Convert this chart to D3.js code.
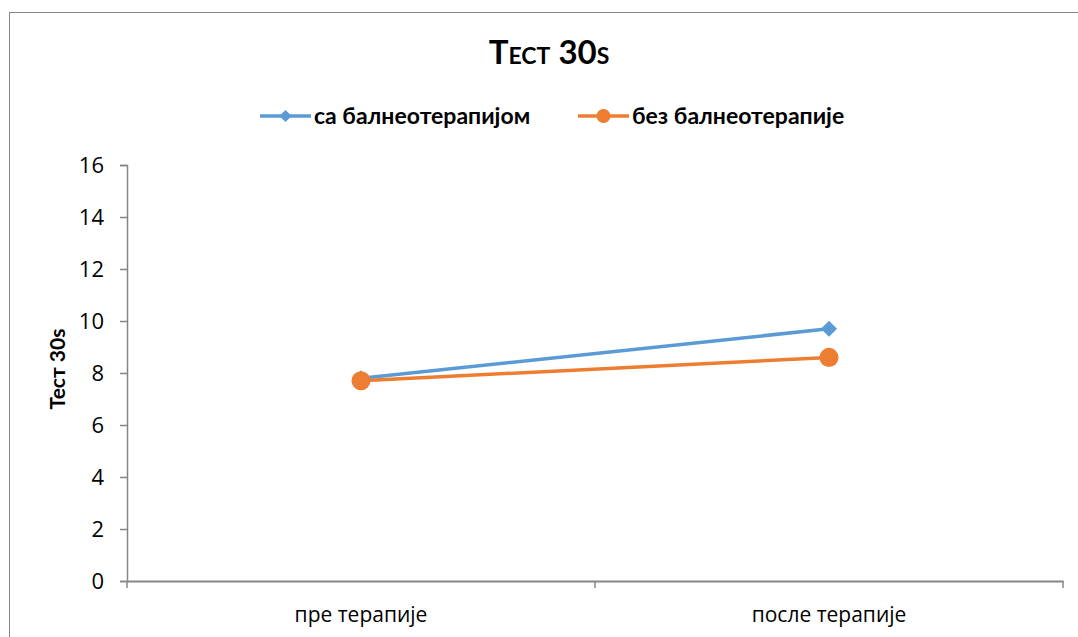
<!DOCTYPE html>
<html>
<head>
<meta charset="utf-8">
<script src="https://cdn.jsdelivr.net/npm/d3@7"></script>
<style>
  body { margin: 0; background: #fff; }
  svg text { font-family: Lato, "Open Sans", sans-serif; fill: #000; }
</style>
</head>
<body>
<div id="chart"></div>
<script>
var categories = ["пре терапије", "после терапије"];
var seriesNames = ["са балнеотерапијом", "без балнеотерапије"];
var withBalneo = [7.8, 9.7];
var withoutBalneo = [7.7, 8.6];
var yTicks = [0, 2, 4, 6, 8, 10, 12, 14, 16];

var W = 1078, H = 637;
var margin = {top: 165, right: 15, bottom: 56, left: 127};
var width = W - margin.left - margin.right,
    height = H - margin.top - margin.bottom;

var svg = d3.select("#chart").append("svg")
    .attr("width", W)
    .attr("height", H);

// outer chart border
svg.append("rect")
    .attr("x", 9.5).attr("y", 12.5)
    .attr("width", W + 20).attr("height", H + 20)
    .style("fill", "none")
    .style("stroke", "#868686")
    .style("stroke-width", 1);

var g = svg.append("g")
    .attr("transform", "translate(" + margin.left + "," + margin.top + ")");

var x = d3.scaleBand().domain(categories).range([0, 936]);
var y = d3.scaleLinear().domain([0, 16]).range([height, 0]);

var yAxis = d3.axisLeft(y).tickValues(yTicks).tickSize(7).tickPadding(16);
var gy = g.append("g").attr("class", "y axis").call(yAxis);
gy.select(".domain").style("stroke", "#868686").style("stroke-width", 1.5);
gy.selectAll(".tick line").style("stroke", "#868686").style("stroke-width", 1.5);
gy.selectAll(".tick text")
    .style("font-size", "22px")
    .style("font-family", "'Open Sans', sans-serif")
    .attr("dy", "0.35em");

var xAxis = d3.axisBottom(x).tickSize(0).tickPadding(0);
var gx = g.append("g").attr("class", "x axis")
    .attr("transform", "translate(0," + height + ")")
    .call(xAxis);
gx.select(".domain").style("stroke", "#868686").style("stroke-width", 2);
gx.selectAll(".tick text")
    .attr("y", 41)
    .attr("dy", 0)
    .style("font-size", "21px")
    .style("font-family", "'Open Sans', sans-serif");

// category separators
var bounds = [0].concat(categories.map(function(c) { return x(c) + x.bandwidth(); }));
g.selectAll(".xsep")
    .data(bounds)
    .enter().append("line")
    .attr("class", "xsep")
    .attr("x1", function(d) { return d; })
    .attr("x2", function(d) { return d; })
    .attr("y1", height)
    .attr("y2", height + 7)
    .style("stroke", "#868686")
    .style("stroke-width", 1.5);

var line = d3.line()
    .x(function(d, i) { return x(categories[i]) + x.bandwidth() / 2; })
    .y(function(d) { return y(d); });

var series = [
    {name: seriesNames[0], values: withBalneo, color: "#5B9BD5", symbol: d3.symbolSquare, rot: 45, size: 130, lsize: 75},
    {name: seriesNames[1], values: withoutBalneo, color: "#ED7D31", symbol: d3.symbolCircle, rot: 0, size: 285, lsize: 150}
];

series.forEach(function(s) {
    g.append("path")
        .datum(s.values)
        .attr("d", line)
        .style("fill", "none")
        .style("stroke", s.color)
        .style("stroke-width", 3.5);
    g.selectAll(null)
        .data(s.values)
        .enter().append("path")
        .attr("d", d3.symbol().type(s.symbol).size(s.size))
        .attr("transform", function(d, i) {
            return "translate(" + (x(categories[i]) + x.bandwidth() / 2) + "," + y(d) + ") rotate(" + s.rot + ")";
        })
        .style("fill", s.color);
});

// title
svg.append("text")
    .attr("x", 549).attr("y", 64)
    .style("text-anchor", "middle")
    .style("font-size", "33px")
    .style("font-weight", "bold")
    .style("font-variant", "small-caps")
    .text("Тест 30s");

// y axis title
svg.append("text")
    .attr("transform", "translate(65,369) rotate(-90)")
    .style("text-anchor", "middle")
    .style("font-size", "21px")
    .style("font-weight", "bold")
    .text("Тест  30s");

// legend
var legendX = [260, 578];
var legend = svg.selectAll(".legend")
    .data(series)
    .enter().append("g")
    .attr("class", "legend")
    .attr("transform", function(d, i) { return "translate(" + legendX[i] + ",116)"; });
legend.append("line")
    .attr("x1", 0).attr("x2", 51)
    .style("stroke", function(d) { return d.color; })
    .style("stroke-width", 3.5);
legend.append("path")
    .attr("transform", function(d) { return "translate(25.5,0) rotate(" + d.rot + ")"; })
    .attr("d", function(d) { return d3.symbol().type(d.symbol).size(d.lsize)(); })
    .style("fill", function(d) { return d.color; });
legend.append("text")
    .attr("x", 54).attr("dy", "0.35em")
    .style("font-size", "23px")
    .style("font-weight", "bold")
    .text(function(d) { return d.name; });
</script>
</body>
</html>
